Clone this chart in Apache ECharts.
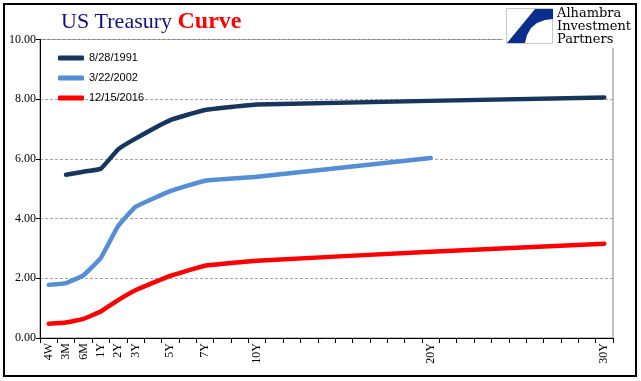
<!DOCTYPE html>
<html><head><meta charset="utf-8">
<script src="https://cdn.jsdelivr.net/npm/echarts@6/dist/echarts.min.js"></script>
<style>html,body{margin:0;padding:0;background:#fff}#c{width:641px;height:381px}</style>
</head><body><div id="c"></div>
<script>
// Maturity labels and their slot index on the category axis (33 slots)
const maturities = ['4W','3M','6M','1Y','2Y','3Y','5Y','7Y','10Y','20Y','30Y'];
const maturitySlots = [0,1,2,3,4,5,7,9,12,22,32];
const slotCount = 33;
const seriesNames = ['8/28/1991','3/22/2002','12/15/2016'];
const y1991 = [null,5.47,5.57,5.67,6.32,6.68,7.30,7.64,7.82,null,8.06];
const y2002 = [1.78,1.84,2.10,2.68,3.75,4.39,4.92,5.27,5.40,6.03,null];
const y2016 = [0.48,0.52,0.64,0.89,1.27,1.60,2.08,2.42,2.59,2.89,3.16];
const yTicks = [0,2,4,6,8,10];

const cats = new Array(slotCount).fill('');
maturities.forEach((m,i)=>{cats[maturitySlots[i]] = m;});
function toSlots(vals){
  const arr = new Array(slotCount).fill(null);
  vals.forEach((v,i)=>{arr[maturitySlots[i]] = v;});
  return arr;
}
const colors = ['#17365D','#558ED5','#FF0000'];
const chart = echarts.init(document.getElementById('c'));
const lineSeries = [y1991,y2002,y2016].map((vals,i)=>({
  name: seriesNames[i], type:'line', data: toSlots(vals), connectNulls:true,
  smooth:0.1, symbol:'none', lineStyle:{width:4.5,color:colors[i],cap:'round',join:'round'},
  itemStyle:{color:colors[i]}, z:3
}));
chart.setOption({
  animation:false,
  backgroundColor:'#fff',
  title:{
    text:'{a|US Treasury }{b|Curve}', left:56, top:5,
    textStyle:{rich:{
      a:{fontFamily:'Liberation Serif',fontSize:22,fontWeight:'normal',color:'#10107F'},
      b:{fontFamily:'Liberation Serif',fontSize:24,fontWeight:'bold',color:'#FF0000'}
    }}
  },
  legend:{
    orient:'vertical', left:53, top:46, itemWidth:26, itemHeight:5, itemGap:6,
    icon:'roundRect',
    textStyle:{fontFamily:'Liberation Sans',fontSize:11,color:'#000',lineHeight:14},
    data:seriesNames
  },
  grid:{left:40,right:28,top:39.5,bottom:43,show:true,borderColor:'#808080',borderWidth:1,backgroundColor:'transparent'},
  xAxis:{
    type:'category', data:cats, boundaryGap:true,
    axisLine:{lineStyle:{color:'#000',width:1}},
    axisTick:{show:true,interval:0,length:5,lineStyle:{color:'#000'}},
    axisLabel:{interval:0,rotate:90,margin:5,fontFamily:'Liberation Serif',fontSize:12,color:'#000'},
    splitLine:{show:false}
  },
  yAxis:{
    type:'value', min:yTicks[0], max:yTicks[yTicks.length-1], interval:2,
    axisLine:{show:true,lineStyle:{color:'#000',width:1}},
    axisTick:{show:true,length:4,lineStyle:{color:'#000'}},
    axisLabel:{margin:4,fontFamily:'Liberation Serif',fontSize:12,color:'#000',formatter:v=>v.toFixed(2)},
    splitLine:{show:true,lineStyle:{color:'#A6A6A6',type:[3,2],width:1}}
  },
  series:lineSeries,
  graphic:[
    {type:'rect',shape:{x:4,y:4,width:632,height:372},style:{fill:'none',stroke:'#000',lineWidth:2},z:100,silent:true},
    {type:'rect',shape:{x:503,y:5,width:132,height:43},style:{fill:'#fff'},z:50},
    {type:'rect',shape:{x:506.5,y:8.5,width:46,height:35},style:{fill:'#fff',stroke:'#C8C8C8',lineWidth:1},z:51},
    {type:'polygon',shape:{points:[[535,9],[553,9],[553,19],[545,20],[537,23],[531,28],[527,35],[525,43],[507,43]]},style:{fill:'#0A2E8C'},z:52},
    {type:'text',style:{x:557,y:7,text:'Alhambra',font:'13px "DejaVu Serif"',fill:'#000'},z:52},
    {type:'text',style:{x:557,y:20,text:'Investment',font:'13px "DejaVu Serif"',fill:'#000'},z:52},
    {type:'text',style:{x:557,y:33,text:'Partners',font:'13px "DejaVu Serif"',fill:'#000'},z:52}
  ]
});
</script></body></html>
